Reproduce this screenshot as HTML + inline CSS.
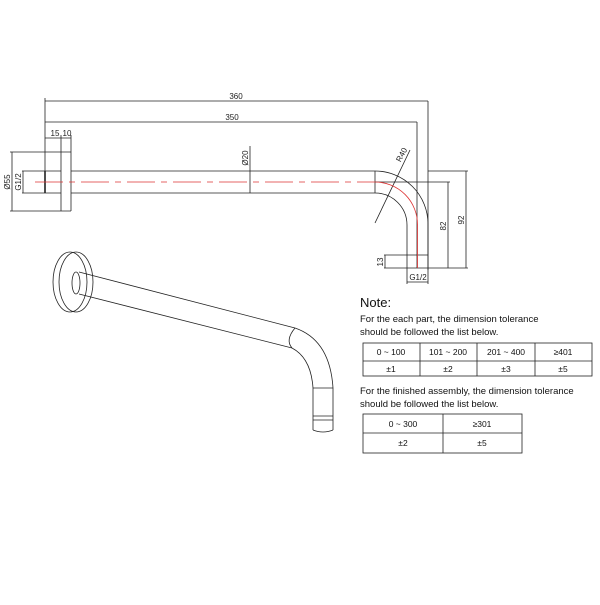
<!DOCTYPE html>
<html><head><style>
body{margin:0;background:#fff;width:600px;height:600px;overflow:hidden;font-family:"Liberation Sans",Arial,sans-serif}
</style></head><body>
<svg width="600" height="600" viewBox="0 0 600 600" xmlns="http://www.w3.org/2000/svg" font-family="Liberation Sans, Arial, sans-serif">
<g stroke="#222" stroke-width="0.8" fill="none">
<!-- dims top -->
<line x1="45" y1="101" x2="428" y2="101"/>
<line x1="45" y1="122" x2="417" y2="122"/>
<line x1="45" y1="98" x2="45" y2="193"/>
<line x1="428" y1="101" x2="428" y2="270"/>
<line x1="417" y1="122" x2="417" y2="268"/>
<line x1="45" y1="138" x2="71" y2="138"/>
<line x1="61" y1="135" x2="61" y2="211"/>
<line x1="71" y1="135" x2="71" y2="211"/>
<!-- flange -->
<line x1="10" y1="152" x2="71" y2="152"/>
<line x1="10" y1="211" x2="71" y2="211"/>
<line x1="12" y1="152" x2="12" y2="211"/>
<line x1="22" y1="171" x2="61" y2="171"/>
<line x1="22" y1="193" x2="61" y2="193"/>
<line x1="23" y1="171" x2="23" y2="193"/>
<line x1="45" y1="171" x2="45" y2="193" stroke-width="1.6"/>
<!-- pipe -->
<line x1="71" y1="171" x2="375" y2="171"/>
<line x1="71" y1="193" x2="375" y2="193"/>
<line x1="375" y1="171" x2="375" y2="193"/>
<line x1="250" y1="146" x2="250" y2="193"/>
<path d="M375 171 A53 53 0 0 1 428 224 L428 268"/>
<path d="M375 193 A32 32 0 0 1 407 225 L407 268"/>
<line x1="384" y1="268" x2="468" y2="268"/>
<line x1="384" y1="255" x2="428" y2="255"/>
<line x1="385" y1="255" x2="385" y2="268"/>
<line x1="428" y1="171" x2="468" y2="171"/>
<line x1="375" y1="182" x2="450" y2="182"/>
<line x1="448" y1="182" x2="448" y2="268"/>
<line x1="466" y1="171" x2="466" y2="268"/>
<line x1="407" y1="268" x2="407" y2="284"/>
<line x1="428" y1="268" x2="428" y2="284"/>
<line x1="407" y1="282" x2="428" y2="282"/>
<line x1="375" y1="223" x2="410" y2="150"/>
</g>
<g stroke="#d33" stroke-width="0.8" fill="none">
<line x1="35" y1="182" x2="375" y2="182" stroke-dasharray="28,6,6,6"/>
<path d="M375 182 A42.5 42.5 0 0 1 417.5 224.5 L417.5 268"/>
</g>
<g font-size="8" fill="#222">
<text x="236" y="99" text-anchor="middle">360</text>
<text x="232" y="120" text-anchor="middle">350</text>
<text x="55" y="136" text-anchor="middle">15</text>
<text x="67" y="136" text-anchor="middle">10</text>
<text transform="translate(10,182) rotate(-90)" text-anchor="middle">Ø55</text>
<text transform="translate(21,182) rotate(-90)" text-anchor="middle">G1/2</text>
<text transform="translate(248,158) rotate(-90)" text-anchor="middle">Ø20</text>
<text transform="translate(404,156) rotate(-62)" text-anchor="middle">R40</text>
<text transform="translate(383,262) rotate(-90)" text-anchor="middle">13</text>
<text transform="translate(446,226) rotate(-90)" text-anchor="middle">82</text>
<text transform="translate(464,220) rotate(-90)" text-anchor="middle">92</text>
<text x="418" y="280" text-anchor="middle">G1/2</text>
</g>
<!-- isometric -->
<g stroke="#222" stroke-width="0.8" fill="none">
<ellipse cx="70" cy="282" rx="17" ry="30"/>
<ellipse cx="76" cy="282" rx="17" ry="30"/>
<ellipse cx="76" cy="283" rx="4" ry="11"/>
<line x1="79" y1="272" x2="295" y2="328"/>
<line x1="79" y1="294" x2="292" y2="348"/>
<path d="M295 328 Q330 340 333 388 L333 430"/>
<path d="M292 348 Q311 358 313 388 L313 430"/>
<path d="M295 328 Q285 340 292 348"/>
<line x1="313" y1="388" x2="333" y2="388"/>
<line x1="313" y1="416" x2="333" y2="416"/>
<line x1="313" y1="420" x2="333" y2="420"/>
<path d="M313 430 Q323 434 333 430"/>
</g>
<!-- notes -->
<g fill="#111">
<text x="360" y="307" font-size="13">Note:</text>
<text x="360" y="322" font-size="9.5">For the each part, the dimension tolerance</text>
<text x="360" y="335" font-size="9.5">should be followed the list below.</text>
<text x="360" y="394" font-size="9.5">For the finished assembly, the dimension tolerance</text>
<text x="360" y="407" font-size="9.5">should be followed the list below.</text>
</g>
<g stroke="#222" stroke-width="0.8" fill="none">
<rect x="363" y="343" width="229" height="33"/>
<line x1="363" y1="361" x2="592" y2="361"/>
<line x1="420" y1="343" x2="420" y2="376"/>
<line x1="477" y1="343" x2="477" y2="376"/>
<line x1="535" y1="343" x2="535" y2="376"/>
<rect x="363" y="414" width="159" height="39"/>
<line x1="363" y1="433" x2="522" y2="433"/>
<line x1="443" y1="414" x2="443" y2="453"/>
</g>
<g font-size="8.5" fill="#111" text-anchor="middle">
<text x="391" y="355">0 ~ 100</text><text x="448" y="355">101 ~ 200</text><text x="506" y="355">201 ~ 400</text><text x="563" y="355">≥401</text>
<text x="391" y="372">±1</text><text x="448" y="372">±2</text><text x="506" y="372">±3</text><text x="563" y="372">±5</text>
<text x="403" y="427">0 ~ 300</text><text x="482" y="427">≥301</text>
<text x="403" y="446">±2</text><text x="482" y="446">±5</text>
</g>
</svg>
</body></html>
